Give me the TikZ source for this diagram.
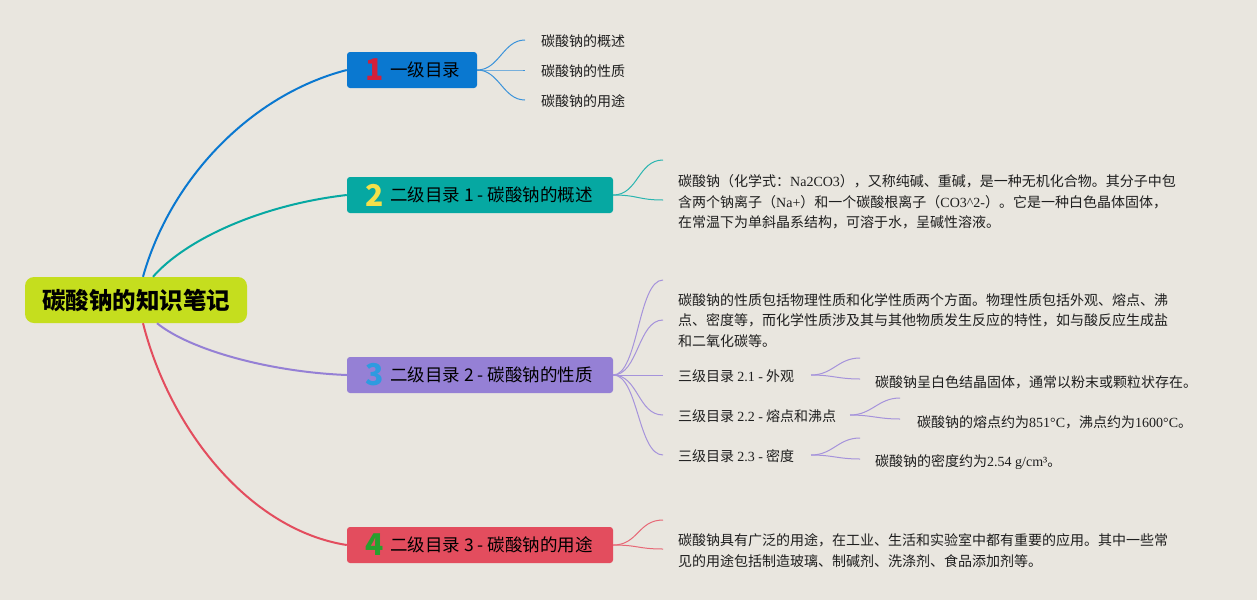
\documentclass[tikz,border=0pt]{standalone}
\usepackage{fontspec}
\setmainfont{Noto Sans CJK SC}
\newfontfamily\lat{Liberation Serif}
\definecolor{bgc}{RGB}{233,230,223}
\definecolor{rootc}{RGB}{197,222,30}
\definecolor{cblue}{RGB}{10,120,208}
\definecolor{cteal}{RGB}{6,168,162}
\definecolor{cpurple}{RGB}{149,128,213}
\definecolor{cred}{RGB}{227,77,94}
\definecolor{nred}{RGB}{212,32,58}
\definecolor{nyellow}{RGB}{243,224,74}
\definecolor{nblue}{RGB}{46,155,224}
\definecolor{ngreen}{RGB}{40,160,46}
\definecolor{txt}{RGB}{30,30,30}
\tikzset{
  rootbox/.style={fill=rootc, rounded corners=9pt, minimum width=222pt, minimum height=46pt, inner sep=0pt, text=black, font=\fontsize{23.5}{28}\selectfont\bfseries},
  topbox/.style={rounded corners=3pt, minimum height=36pt, inner sep=0pt},
  numlbl/.style={inner sep=0pt, font=\fontsize{30}{34}\selectfont\bfseries},
  boxlbl/.style={inner sep=0pt, anchor=west, text=black, font=\fontsize{17.5}{20}\selectfont},
  leaf/.style={inner sep=0pt, anchor=west, text=txt, font=\fontsize{14}{20.5}\selectfont, align=left},
  mline/.style={line width=2pt},
  sline/.style={line width=1pt},
}
\begin{document}
\begin{tikzpicture}[x=1pt,y=-1pt]
\useasboundingbox[fill=bgc] (0,0) rectangle (1257,600);
% root
\node[rootbox] (root) at (136,300) {碳酸钠的知识笔记};
% level boxes
\node[topbox, fill=cblue, minimum width=130pt] (b1) at (412,70) {};
\node[topbox, fill=cteal, minimum width=266pt] (b2) at (480,195) {};
\node[topbox, fill=cpurple, minimum width=266pt] (b3) at (480,375) {};
\node[topbox, fill=cred, minimum width=266pt] (b4) at (480,545) {};
\node[numlbl, text=nred] (n1) at (374.5,70) {1};
\node[numlbl, text=nyellow] (n2) at (374.5,195) {2};
\node[numlbl, text=nblue] (n3) at (374.5,375) {3};
\node[numlbl, text=ngreen] (n4) at (374.5,545) {4};
\node[boxlbl] (t1) at (390,70) {一级目录};
\node[boxlbl] (t2) at (390,195) {二级目录 1 - 碳酸钠的概述};
\node[boxlbl] (t3) at (390,375) {二级目录 2 - 碳酸钠的性质};
\node[boxlbl] (t4) at (390,545) {二级目录 3 - 碳酸钠的用途};
% main connectors
\draw[mline, cblue] ([xshift=7pt]root.north) .. controls (170,180) and (250,95) .. (b1.west);
\draw[mline, cteal] ([xshift=17pt]root.north) .. controls (185,240) and (260,205) .. (b2.west);
\draw[mline, cpurple] ([xshift=21pt]root.south) .. controls (190,350) and (270,372) .. (b3.west);
\draw[mline, cred] ([xshift=7pt]root.south) .. controls (170,430) and (250,530) .. (b4.west);
% level 1 children
\node[leaf] (c11) at (541,41) {碳酸钠的概述};
\node[leaf] (c12) at (541,71) {碳酸钠的性质};
\node[leaf] (c13) at (541,101) {碳酸钠的用途};
\coordinate (k11) at (525,40);
\coordinate (k12) at (525,70);
\coordinate (k13) at (525,100);
\foreach \k in {k11,k12,k13}
  \draw[sline, cblue!80!white] (b1.east) .. controls +(22,0) and +(-22,0) .. (\k);
% level 2 detail
\node[leaf] (d2) at (678,202) {碳酸钠（化学式：{\lat Na2CO3}），又称纯碱、重碱，是一种无机化合物。其分子中包\\含两个钠离子（{\lat Na+}）和一个碳酸根离子（{\lat CO3\textasciicircum 2-}）。它是一种白色晶体固体，\\在常温下为单斜晶系结构，可溶于水，呈碱性溶液。};
\coordinate (p21) at (663,160);
\coordinate (p22) at (663,200);
\foreach \k in {p21,p22}
  \draw[sline, cteal!85!white] (b2.east) .. controls +(25,0) and +(-25,0) .. (\k);
% level 3 children
\node[leaf] (d3) at (678,320.5) {碳酸钠的性质包括物理性质和化学性质两个方面。物理性质包括外观、熔点、沸\\点、密度等，而化学性质涉及其与其他物质发生反应的特性，如与酸反应生成盐\\和二氧化碳等。};
\node[leaf] (s1) at (678,376) {三级目录 {\lat 2.1 -} 外观};
\node[leaf] (s2) at (678,416) {三级目录 {\lat 2.2 -} 熔点和沸点};
\node[leaf] (s3) at (678,456) {三级目录 {\lat 2.3 -} 密度};
\coordinate (p31) at (663,280);
\coordinate (p32) at (663,320);
\coordinate (p33) at (663,375);
\coordinate (p34) at (663,415);
\coordinate (p35) at (663,455);
\foreach \k in {p31,p32,p33,p34,p35}
  \draw[sline, cpurple!85!white] (b3.east) .. controls +(25,0) and +(-25,0) .. (\k);
% level 3 sub details
\node[leaf] (e1) at (875,382) {碳酸钠呈白色结晶固体，通常以粉末或颗粒状存在。};
\node[leaf] (e2) at (917,422) {碳酸钠的熔点约为{\lat 851°C}，沸点约为{\lat 1600°C}。};
\node[leaf] (e3) at (875,462) {碳酸钠的密度约为{\lat 2.54 g/cm³}。};
\coordinate (q1) at (811,375);
\coordinate (q1a) at (860,358);
\coordinate (q1b) at (860,379);
\coordinate (q2) at (850,415);
\coordinate (q2a) at (900,398);
\coordinate (q2b) at (900,419);
\coordinate (q3) at (811,455);
\coordinate (q3a) at (860,438);
\coordinate (q3b) at (860,459);
\foreach \s/\a/\b in {q1/q1a/q1b,q2/q2a/q2b,q3/q3a/q3b}{
  \draw[sline, cpurple!85!white] (\s) .. controls +(22,0) and +(-22,0) .. (\a);
  \draw[sline, cpurple!85!white] (\s) .. controls +(22,0) and +(-22,0) .. (\b);
}
% level 4 detail
\node[leaf] (d4) at (678,550.5) {碳酸钠具有广泛的用途，在工业、生活和实验室中都有重要的应用。其中一些常\\见的用途包括制造玻璃、制碱剂、洗涤剂、食品添加剂等。};
\coordinate (p41) at (663,520);
\coordinate (p42) at (663,549);
\foreach \k in {p41,p42}
  \draw[sline, cred!85!white] (b4.east) .. controls +(25,0) and +(-25,0) .. (\k);
\end{tikzpicture}
\end{document}
